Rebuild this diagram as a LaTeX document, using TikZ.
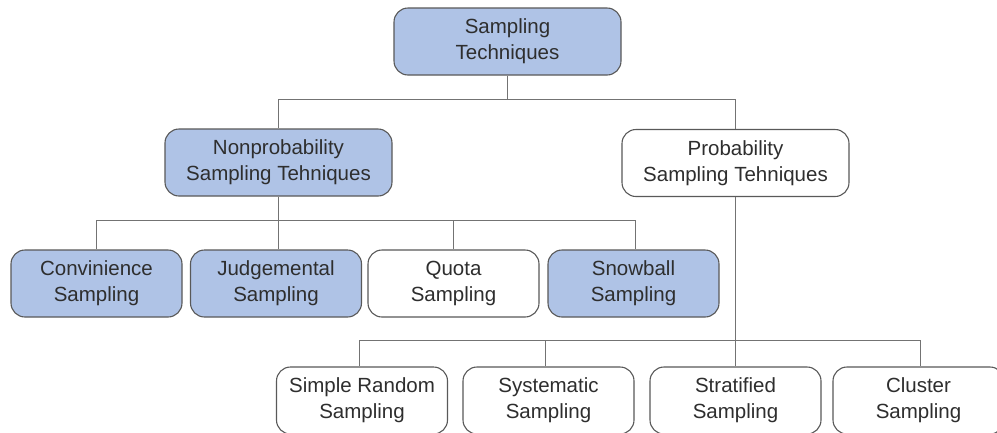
\documentclass[tikz,border=0pt]{standalone}
\usepackage{fontspec}
\setmainfont{Liberation Sans}
\begin{document}
\begin{tikzpicture}[x=1pt,y=-1pt,
  box/.style={draw=black!65, line width=1.1pt, rounded corners=14pt,
    align=center, text=black!82, inner sep=0pt,
    font=\fontsize{20.5}{26}\selectfont},
  wide/.style={box, minimum width=227pt, minimum height=67pt},
  leaf/.style={box, minimum width=171pt, minimum height=67pt},
  shaded/.style={fill=blueA},
  plain/.style={fill=white},
  link/.style={draw=black!55, line width=0.9pt}]
\definecolor{blueA}{HTML}{AFC3E6}
\useasboundingbox (0,0) rectangle (997,432);
\clip (0,0) rectangle (997,432);
\fill[white] (0,0) rectangle (997,432);

% bus levels
\coordinate (bus1) at (0,99);
\coordinate (bus2) at (0,220);
\coordinate (bus3) at (0,340);

% root and second level
\node[wide,shaded] (root) at (507.5,41.5) {Sampling\\Techniques};
\node[wide,shaded] (np) at (278.5,162.5) {Nonprobability\\Sampling Tehniques};
\node[wide,plain]  (pr) at (735.5,163) {Probability\\Sampling Tehniques};

% nonprobability methods
\node[leaf,shaded] (conv) at (96.5,283.5) {Convinience\\Sampling};
\node[leaf,shaded] (judg) at (276,283.5) {Judgemental\\Sampling};
\node[leaf,plain]  (quota) at (453.5,283.5) {Quota\\Sampling};
\node[leaf,shaded] (snow) at (633.5,283.5) {Snowball\\Sampling};

% probability methods
\node[leaf,plain] (simple) at (362,400.5) {Simple Random\\Sampling};
\node[leaf,plain] (syst) at (548.5,400.5) {Systematic\\Sampling};
\node[leaf,plain] (strat) at (735.5,400.5) {Stratified\\Sampling};
\node[leaf,plain] (clus) at (918.5,400.5) {Cluster\\Sampling};

% connectors
\draw[link] (root.south) -- (root.south |- bus1) -| (np.north);
\draw[link] (root.south |- bus1) -| (pr.north);

\draw[link] (np.south) -- (np.south |- bus2) -| (conv.north);
\draw[link] (np.south |- bus2) -- ([xshift=2.5pt]judg.north);
\draw[link] (np.south |- bus2) -| (quota.north);
\draw[link] (np.south |- bus2) -| ([xshift=1.5pt]snow.north);

\draw[link] (pr.south) -- (pr.south |- bus3) -| ([xshift=-3pt]simple.north);
\draw[link] (pr.south |- bus3) -| ([xshift=-3.5pt]syst.north);
\draw[link] (pr.south |- bus3) -- (strat.north);
\draw[link] (pr.south |- bus3) -| ([xshift=1.5pt]clus.north);
\end{tikzpicture}
\end{document}
